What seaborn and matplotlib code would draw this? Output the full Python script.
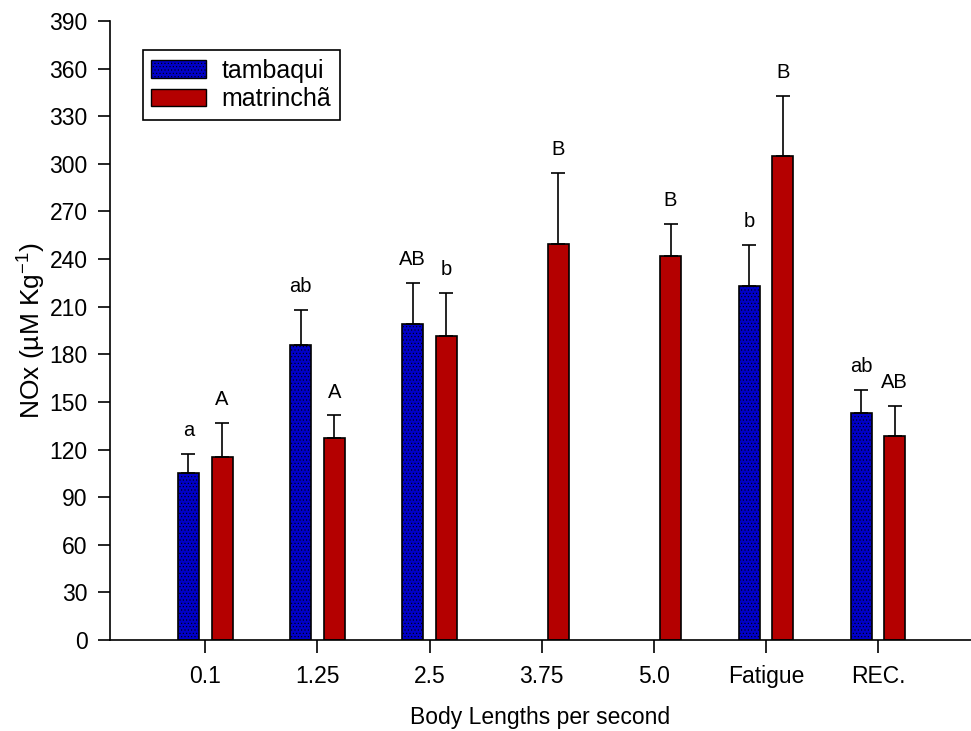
import matplotlib
matplotlib.use("Agg")
import matplotlib.pyplot as plt
import matplotlib.patches as mpatches
import numpy as np
import pandas as pd
import seaborn as sns

categories = ["0.1", "1.25", "2.5", "3.75", "5.0", "Fatigue", "REC."]
tambaqui = [105, 186, 199, np.nan, np.nan, 223, 143]
tambaqui_err = [12, 22, 26, np.nan, np.nan, 26, 14.5]
matrincha = [115, 127, 191.5, 249.5, 242, 305, 128.5]
matrincha_err = [22, 14.5, 27, 45, 20, 38, 19]
tambaqui_letters = ["a", "ab", "AB", "", "", "b", "ab"]
matrincha_letters = ["A", "A", "b", "B", "B", "B", "AB"]

sns.set_style("ticks")
plt.rcParams["font.family"] = ["Liberation Sans", "DejaVu Sans"]
plt.rcParams["mathtext.default"] = "regular"
plt.rcParams["hatch.linewidth"] = 0.4
plt.rcParams["text.color"] = "black"
plt.rcParams["axes.labelcolor"] = "black"

df = pd.DataFrame({
    "cat": categories * 2,
    "value": tambaqui + matrincha,
    "species": ["tambaqui"] * len(categories) + ["matrinchã"] * len(categories),
}).dropna()

blue = "#0000c8"
red = "#b40000"

fig = plt.figure(figsize=(9.71, 7.31), dpi=100)
ax = fig.add_axes([0.1133, 0.1245, 0.8867, 0.8468])

sns.barplot(data=df, x="cat", y="value", hue="species", order=categories,
            hue_order=["tambaqui", "matrinchã"], palette=[blue, red],
            saturation=1, width=0.6, gap=0.375, edgecolor="black", linewidth=1.2,
            errorbar=None, legend=False, ax=ax)

for bar in ax.containers[0]:
    bar.set_hatch(".....")

x = np.arange(len(categories))
for off, vals, errs, letters in [(-0.15, tambaqui, tambaqui_err, tambaqui_letters),
                                 (0.15, matrincha, matrincha_err, matrincha_letters)]:
    vals = np.array(vals, dtype=float)
    errs = np.array(errs, dtype=float)
    ok = ~np.isnan(vals)
    ax.errorbar(x[ok] + off, vals[ok], yerr=[np.zeros(ok.sum()), errs[ok]],
                fmt="none", ecolor="black", elinewidth=1.2, capsize=5,
                capthick=1.2, zorder=1)
    for xi, v, e, t in zip(x[ok] + off, vals[ok], errs[ok], np.array(letters)[ok]):
        ax.annotate(t, (xi, v + e), xytext=(0, 10), textcoords="offset points",
                    ha="center", va="bottom", fontsize=14.5)

ax.set_xlim(-0.85, 6.83)
ax.set_ylim(0, 390)
ax.set_yticks(np.arange(0, 391, 30))
ax.set_xlabel("Body Lengths per second", fontsize=16.5, labelpad=13)
ax.set_ylabel("NOx (µM Kg$^{-1}$)", fontsize=19, labelpad=1)
ax.tick_params(axis="both", labelsize=16.5, length=9, width=1.2, direction="out",
               colors="black")
ax.tick_params(axis="y", pad=7)
ax.tick_params(axis="x", pad=9)
sns.despine(ax=ax)
for s in ["left", "bottom"]:
    ax.spines[s].set_linewidth(1.2)
    ax.spines[s].set_color("black")

handles = [mpatches.Patch(facecolor=blue, edgecolor="black", hatch=".....", label="tambaqui"),
           mpatches.Patch(facecolor=red, edgecolor="black", label="matrinchã")]
leg = ax.legend(handles=handles, loc="upper left", bbox_to_anchor=(0.038, 0.953),
                borderaxespad=0, fontsize=18, fancybox=False, framealpha=1,
                edgecolor="black", handlelength=2.2, handleheight=0.68,
                handletextpad=0.6, borderpad=0.35, labelspacing=0.18)
leg.get_frame().set_linewidth(1.2)

fig.savefig("out.png", dpi=100)
